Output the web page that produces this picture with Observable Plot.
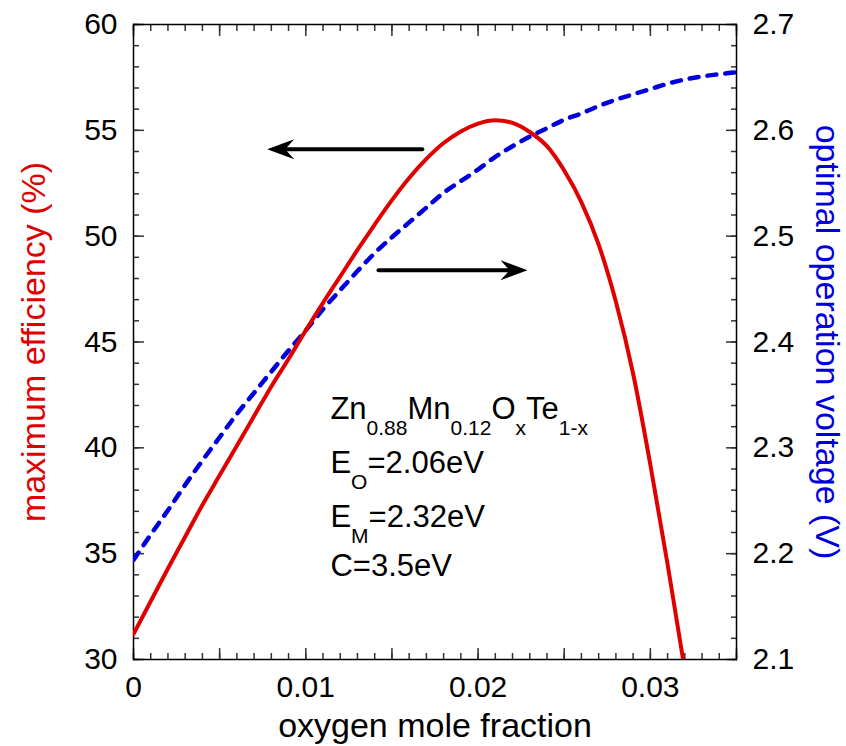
<!DOCTYPE html>
<html>
<head>
<meta charset="utf-8">
<script src="https://cdn.jsdelivr.net/npm/d3@7"></script>
<script src="https://cdn.jsdelivr.net/npm/@observablehq/plot@0.6"></script>
<style>
  html, body { margin: 0; padding: 0; background: #fff; }
  svg { display: block; }
</style>
</head>
<body>
<div id="chart"></div>
<script>
// ---- data ----
const effX = [0, 0.001, 0.002, 0.003, 0.004, 0.005, 0.006, 0.007, 0.008, 0.009,
  0.010, 0.011, 0.012, 0.013, 0.014, 0.015, 0.016, 0.017, 0.018, 0.019,
  0.020, 0.021, 0.022, 0.023, 0.024, 0.025, 0.026, 0.027, 0.028, 0.029,
  0.030, 0.031, 0.0319];
const effY = [31.2, 32.75, 34.3, 35.8, 37.3, 38.7, 40.1, 41.5, 42.9, 44.2,
  45.55, 46.85, 48.1, 49.35, 50.55, 51.7, 52.75, 53.65, 54.4, 54.95,
  55.32, 55.48, 55.35, 54.92, 54.25, 53.1, 51.6, 49.6, 46.9, 43.5,
  39.2, 34.5, 30.0];

const voltX = [0, 0.001, 0.002, 0.003, 0.004, 0.005, 0.006, 0.007, 0.008, 0.009,
  0.010, 0.011, 0.012, 0.013, 0.014, 0.015, 0.016, 0.017, 0.018, 0.019,
  0.020, 0.021, 0.022, 0.023, 0.024, 0.025, 0.026, 0.027, 0.028, 0.029,
  0.030, 0.031, 0.032, 0.033, 0.034, 0.035];
const voltY = [2.194, 2.218, 2.241, 2.265, 2.288, 2.310, 2.332, 2.352, 2.372, 2.392,
  2.411, 2.431, 2.449, 2.467, 2.484, 2.499, 2.513, 2.527, 2.541, 2.552,
  2.563, 2.575, 2.585, 2.594, 2.602, 2.610, 2.616, 2.623, 2.629, 2.634,
  2.639, 2.644, 2.648, 2.651, 2.653, 2.655];

const xDomain = [0, 0.035];
const effDomain = [30, 60];
const voltDomain = [2.1, 2.7];

const xTickLabels = [0, 0.01, 0.02, 0.03];
const effTickLabels = [30, 35, 40, 45, 50, 55, 60];
const voltTickLabels = [2.1, 2.2, 2.3, 2.4, 2.5, 2.6, 2.7];

const xTitle = "oxygen mole fraction";
const leftTitle = "maximum efficiency (%)";
const rightTitle = "optimal operation voltage (V)";

const annotationText = ["Zn_{0.88}Mn_{0.12}O_{x}Te_{1-x}", "E_{O}=2.06eV", "E_{M}=2.32eV", "C=3.5eV"];
const annotationX = [0.01143, 0.01143, 0.01143, 0.01143];
const annotationY = [41.85, 39.3, 36.75, 34.4];

// arrows: from (start) to (tip), at a given efficiency level
const arrowStartX = [0.01676, 0.01422];
const arrowTipX = [0.00776, 0.02287];
const arrowY = [54.11, 48.39];

// ---- helpers ----
const voltToEff = v => effDomain[0] + (v - voltDomain[0]) / (voltDomain[1] - voltDomain[0]) * (effDomain[1] - effDomain[0]);
const effToVolt = e => voltDomain[0] + (e - effDomain[0]) / (effDomain[1] - effDomain[0]) * (voltDomain[1] - voltDomain[0]);

const effData = effX.map((x, i) => ({x, y: effY[i]}));
const voltData = voltX.map((x, i) => ({x, y: voltToEff(voltY[i])}));
const annData = annotationText.map((t, i) => ({t, x: annotationX[i], y: annotationY[i]}));
const arrowData = arrowStartX.map((x1, i) => ({x1, x2: arrowTipX[i], y: arrowY[i]}));

const xMajor = d3.range(0, 8).map(i => i * 0.005);
const xMinor = d3.range(0, 36).map(i => i / 1000);
const yMajor = d3.range(0, 7).map(i => 30 + i * 5);
const yMinor = d3.range(0, 31).map(i => 30 + i);

const RED = "#e00000";
const BLUE = "#0000dd";
const TICK = "#333";
const FONT = "'Liberation Sans', Arial, Helvetica, sans-serif";

const arrowHead = {
  draw(ctx) {
    ctx.moveTo(0, 0);
    ctx.lineTo(27, -10);
    ctx.lineTo(18, 0);
    ctx.lineTo(27, 10);
    ctx.closePath();
  }
};

const tickOpts = {fill: "none", label: null, stroke: TICK, strokeWidth: 1.5};

const chart = Plot.plot({
  width: 846,
  height: 746,
  marginLeft: 133,
  marginRight: 110,
  marginTop: 24,
  marginBottom: 87,
  style: {fontFamily: FONT, background: "white"},
  x: {domain: xDomain},
  y: {domain: effDomain},
  marks: [
    // inward ticks, bottom & top
    Plot.axisX(xMinor, {anchor: "bottom", tickSize: 6, dy: -6, ...tickOpts}),
    Plot.axisX(xMajor, {anchor: "bottom", tickSize: 11, dy: -11, ...tickOpts}),
    Plot.axisX(xMinor, {anchor: "top", tickSize: 6, dy: 6, ...tickOpts}),
    Plot.axisX(xMajor, {anchor: "top", tickSize: 11, dy: 11, ...tickOpts}),
    // inward ticks, left & right
    Plot.axisY(yMinor, {anchor: "left", tickSize: 6, dx: 6, ...tickOpts}),
    Plot.axisY(yMajor, {anchor: "left", tickSize: 11, dx: 11, ...tickOpts}),
    Plot.axisY(yMinor, {anchor: "right", tickSize: 6, dx: -6, ...tickOpts}),
    Plot.axisY(yMajor, {anchor: "right", tickSize: 11, dx: -11, ...tickOpts}),
    // tick labels
    Plot.axisX(xTickLabels, {anchor: "bottom", tickSize: 0, tickPadding: 16, fontSize: 30, label: null,
      tickFormat: d => d3.format("~g")(d), fill: "black"}),
    Plot.axisY(effTickLabels, {anchor: "left", tickSize: 0, tickPadding: 16, fontSize: 30, label: null,
      tickFormat: d => String(d), fill: "black"}),
    Plot.axisY(voltTickLabels.map(voltToEff), {anchor: "right", tickSize: 0, tickPadding: 16, fontSize: 30, label: null,
      tickFormat: d => d3.format(".1f")(effToVolt(d)), fill: "black"}),
    Plot.frame({stroke: "black", strokeWidth: 1.5}),
    // axis titles
    Plot.text([xTitle], {text: d => d, frameAnchor: "bottom", lineAnchor: "middle", textAnchor: "middle",
      dy: 67, fontSize: 34, fill: "black"}),
    Plot.text([leftTitle], {text: d => d, frameAnchor: "left", textAnchor: "middle", lineAnchor: "middle",
      dx: -99, rotate: -90, fontSize: 34, fill: RED}),
    Plot.text([rightTitle], {text: d => d, frameAnchor: "right", textAnchor: "middle", lineAnchor: "middle",
      dx: 90, rotate: 90, fontSize: 34, fill: BLUE}),
    // curves
    Plot.line(voltData, {x: "x", y: "y", stroke: BLUE, strokeWidth: 4.5, strokeDasharray: "9,9",
      strokeLinecap: "round", curve: "monotone-x", clip: true}),
    Plot.line(effData, {x: "x", y: "y", stroke: RED, strokeWidth: 4, curve: "monotone-x", clip: true}),
    // arrows
    Plot.arrow(arrowData, {x1: "x1", x2: "x2", y1: "y", y2: "y", headLength: 0, insetEnd: 14,
      stroke: "black", strokeWidth: 4}),
    Plot.dot(arrowData, {x: "x2", y: "y", symbol: arrowHead, fill: "black", stroke: "none",
      rotate: d => d.x2 < d.x1 ? 0 : 180}),
    // annotation
    Plot.text(annData, {x: "x", y: "y", text: "t", textAnchor: "start", fontSize: 31, fill: "black"})
  ]
});

// render subscripts written as _{...}
d3.select(chart).selectAll("text").each(function () {
  const s = this.textContent;
  if (!s.includes("_{")) return;
  const el = d3.select(this);
  el.text(null);
  const re = /_\{([^}]*)\}|([^_]+)/g;
  let m, shifted = false;
  while ((m = re.exec(s)) !== null) {
    if (m[1] !== undefined) {
      el.append("tspan").attr("font-size", 21).attr("dy", shifted ? 0 : 16).text(m[1]);
      shifted = true;
    } else {
      el.append("tspan").attr("dy", shifted ? -16 : 0).text(m[2]);
      shifted = false;
    }
  }
});

document.getElementById("chart").append(chart);
</script>
</body>
</html>
